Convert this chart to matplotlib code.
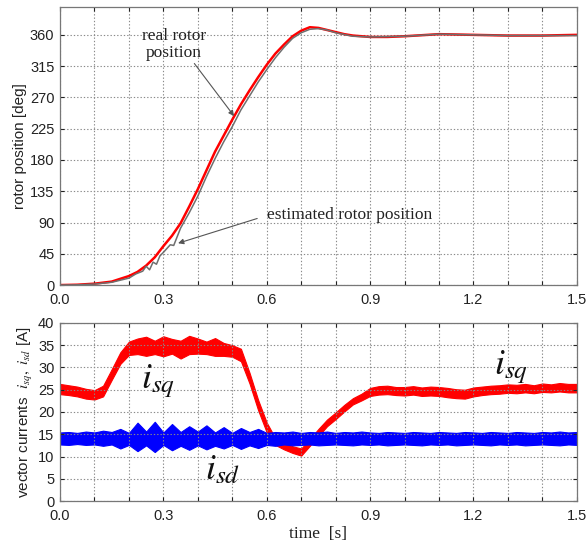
import numpy as np
import matplotlib
matplotlib.use("Agg")
import matplotlib.pyplot as plt

plt.rcParams['font.family'] = ['Liberation Sans', 'DejaVu Sans']
plt.rcParams['mathtext.fontset'] = 'stix'

# rotor position [deg]
t_pos = [0.0, 0.05, 0.1, 0.15, 0.2, 0.225, 0.25, 0.275, 0.3, 0.325, 0.35, 0.375, 0.4,
         0.425, 0.45, 0.475, 0.5, 0.525, 0.55, 0.575, 0.6, 0.625, 0.65, 0.675,
         0.7, 0.725, 0.75, 0.775, 0.8, 0.825, 0.85, 0.9, 0.95, 1.0, 1.1, 1.2, 1.3, 1.4, 1.5]
real_pos = [0, 0.5, 2, 5, 13, 19, 28, 40, 56, 71, 89, 113, 138,
            165, 192, 215, 238, 260, 280, 299, 317, 333, 346, 358,
            366, 371, 370, 367, 364, 361, 359, 357, 357, 358, 361, 360, 359, 359, 360]

t_est = [0.0, 0.05, 0.1, 0.15, 0.2, 0.22, 0.24, 0.25, 0.26, 0.27, 0.28, 0.29, 0.3, 0.32,
         0.33, 0.35, 0.375, 0.4, 0.425, 0.45, 0.475, 0.5, 0.525, 0.55, 0.575, 0.6, 0.625,
         0.65, 0.675, 0.7, 0.725, 0.75, 0.775, 0.8, 0.85, 0.9, 1.0, 1.1, 1.2, 1.3, 1.4, 1.5]
est_pos = [0, 0.3, 1.5, 4, 10, 16, 20, 27, 22, 33, 30, 42, 47, 58,
           57, 82, 104, 128, 156, 182, 206, 228, 252, 272, 292, 310, 327,
           342, 355, 363, 368, 369, 367, 363, 358, 357, 358, 361, 360, 359, 359, 359]

# vector currents [A], band envelopes
t_cur = np.round(np.arange(0, 1.5001, 0.025), 3)
isq_hi = [26.3, 26.0, 25.7, 25.2, 24.9, 25.9, 29.6, 33.4, 35.8, 36.5, 36.9, 36.0,
          37.0, 36.4, 36.0, 37.1, 36.5, 35.8, 36.6, 35.5, 35.0, 34.2, 28.8, 22.7,
          17.6, 14.1, 13.1, 12.3, 11.8, 13.9, 16.2, 18.3, 19.9, 21.6, 23.1, 24.1,
          25.4, 25.8, 25.9, 25.6, 25.6, 25.8, 25.5, 25.7, 25.6, 25.4, 25.1, 25.0,
          25.5, 25.7, 25.9, 26.0, 26.2, 26.1, 26.3, 26.0, 26.4, 26.2, 26.5, 26.3, 26.3]
isq_lo = [24.0, 23.8, 23.5, 23.0, 22.8, 23.5, 27.2, 30.8, 32.8, 33.0, 32.6, 33.0,
          32.5, 33.1, 32.0, 33.0, 33.1, 33.0, 32.6, 32.6, 32.4, 31.4, 26.4, 20.4,
          15.4, 12.6, 11.6, 10.8, 10.2, 12.4, 14.6, 16.8, 18.4, 20.1, 21.7, 22.6,
          23.6, 23.9, 24.0, 23.8, 23.7, 23.9, 23.6, 23.7, 23.6, 23.3, 23.1, 23.0,
          23.5, 23.8, 24.0, 24.1, 24.3, 24.2, 24.4, 24.2, 24.5, 24.4, 24.6, 24.4, 24.4]
isd_hi = [15.4, 15.5, 15.3, 15.6, 15.4, 15.8, 15.5, 16.2, 15.3, 17.6, 15.6, 17.8,
          15.4, 17.3, 15.5, 16.8, 15.6, 17.0, 15.4, 16.6, 15.3, 16.4, 15.5, 16.2,
          15.3, 15.5, 15.4, 15.6, 15.3, 15.5, 15.4, 15.6, 15.3, 15.5, 15.4, 15.6,
          15.4, 15.3, 15.5, 15.4, 15.3, 15.5, 15.4, 15.3, 15.5, 15.4, 15.3, 15.5,
          15.4, 15.3, 15.5, 15.4, 15.3, 15.5, 15.4, 15.3, 15.5, 15.4, 15.6, 15.4, 15.5]
isd_lo = [12.7, 12.6, 12.8, 12.6, 12.7, 12.4, 12.7, 11.8, 12.6, 11.2, 12.5, 11.0,
          12.6, 11.4, 12.4, 11.5, 12.5, 11.6, 12.4, 11.8, 12.6, 11.7, 12.5, 11.9,
          12.6, 12.4, 12.7, 12.5, 12.6, 12.7, 12.5, 12.6, 12.7, 12.6, 12.5, 12.7,
          12.6, 12.7, 12.5, 12.6, 12.7, 12.6, 12.5, 12.7, 12.6, 12.7, 12.5, 12.6,
          12.7, 12.6, 12.5, 12.7, 12.6, 12.7, 12.5, 12.6, 12.7, 12.6, 12.5, 12.7, 12.6]

x_ticks = np.round(np.arange(0, 1.5001, 0.1), 1)
x_labels = ["%.1f" % v if round(v * 10) % 3 == 0 else "" for v in x_ticks]
pos_ticks = [0, 45, 90, 135, 180, 225, 270, 315, 360]
cur_ticks = [0, 5, 10, 15, 20, 25, 30, 35, 40]

fig = plt.figure(figsize=(5.86, 5.43), dpi=100)
ax1 = fig.add_axes([0.1024, 0.475, 0.882, 0.512])
ax2 = fig.add_axes([0.1024, 0.0773, 0.882, 0.328])

for ax in (ax1, ax2):
    ax.set_xlim(0, 1.5)
    ax.set_xticks(x_ticks)
    ax.set_xticklabels(x_labels)
    ax.grid(True, linestyle=(0, (1.2, 1.8)), color="#8a8a8a", linewidth=0.8)
    ax.tick_params(direction="in", length=3, labelsize=10.5, colors="#222222",
                   top=True, right=True, pad=4)
    ax.tick_params(axis="x", pad=6)
    for s in ax.spines.values():
        s.set_color("#777777")
        s.set_linewidth(0.9)

ax1.plot(t_pos, real_pos, color="red", linewidth=1.8)
ax1.plot(t_est, est_pos, color="#6f6f6f", linewidth=1.1)
ax1.set_ylim(0, 400)
ax1.set_yticks(pos_ticks)
ax1.set_ylabel("rotor position [deg]", fontsize=11, color="#222222", labelpad=2)

ax1.text(0.33, 346, "real rotor\nposition", family="Liberation Serif", fontsize=12.5,
         ha="center", va="center", linespacing=1.05, color="#222222")
ax1.annotate("", xy=(0.51, 240), xytext=(0.385, 322),
             arrowprops=dict(arrowstyle="-|>", color="#555555", lw=0.8,
                             mutation_scale=8))
ax1.text(0.6, 101, "estimated rotor position", family="Liberation Serif", fontsize=12.5,
         ha="left", va="center", color="#222222")
ax1.annotate("", xy=(0.335, 59), xytext=(0.58, 97),
             arrowprops=dict(arrowstyle="-|>", color="#555555", lw=0.8,
                             mutation_scale=8))

ax2.fill_between(t_cur, isq_lo, isq_hi, color="red", linewidth=0.8, edgecolor="red")
ax2.fill_between(t_cur, isd_lo, isd_hi, color="blue", linewidth=0.8, edgecolor="blue")
ax2.set_ylim(0, 40)
ax2.set_yticks(cur_ticks)
ax2.set_ylabel(r"vector currents  $i_{sq},\ i_{sd}$ [A]", fontsize=11,
               color="#222222", labelpad=2)
ax2.set_xlabel("time  [s]", family="Liberation Serif", fontsize=12.5, color="#222222",
               labelpad=2)

ax2.text(0.235, 27, r"$i_{sq}$", fontsize=26, ha="left", va="center", color="#111111")
ax2.text(1.26, 30, r"$i_{sq}$", fontsize=26, ha="left", va="center", color="#111111")
ax2.text(0.42, 7, r"$i_{sd}$", fontsize=26, ha="left", va="center", color="#111111")

plt.savefig("out.png", dpi=100)
